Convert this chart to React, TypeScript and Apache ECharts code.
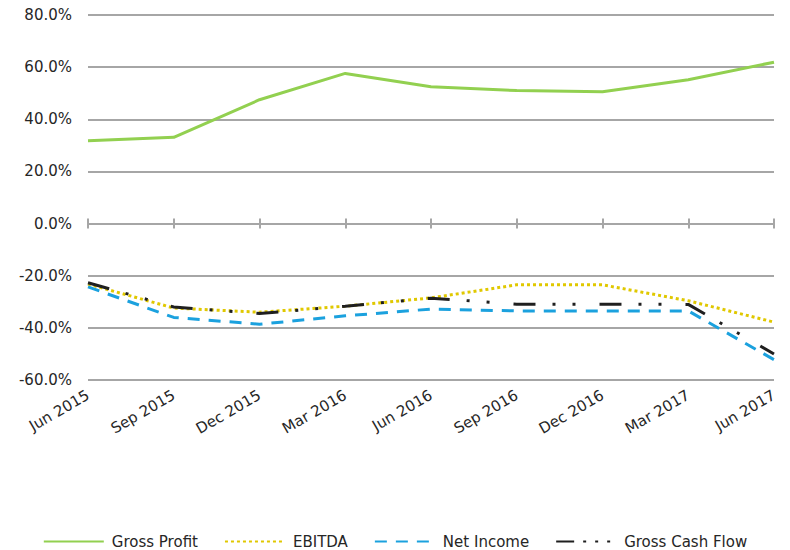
import React, { useEffect, useRef } from "react";
import * as echarts from "echarts";

const categories = ["Jun 2015", "Sep 2015", "Dec 2015", "Mar 2016", "Jun 2016", "Sep 2016", "Dec 2016", "Mar 2017", "Jun 2017"];
const grossProfit = [31.8, 33.1, 47.5, 57.6, 52.5, 51.0, 50.6, 55.2, 61.9];
const ebitda = [-23.2, -32.4, -34.0, -31.7, -28.5, -23.5, -23.5, -29.6, -37.8];
const netIncome = [-24.3, -36.0, -38.6, -35.4, -32.8, -33.5, -33.5, -33.5, -52.2];
const grossCashFlow = [-22.7, -32.0, -34.5, -31.7, -28.6, -30.9, -30.9, -31.0, -50.0];
const seriesNames = ["Gross Profit", "EBITDA", "Net Income", "Gross Cash Flow"];

const FONT = "DejaVu Sans";
const TEXT = "#262626";
const GRID = "#A6A6A6";

export default function App() {
  const ref = useRef<HTMLDivElement>(null);
  useEffect(() => {
    if (!ref.current) return;
    const chart = echarts.init(ref.current, null, { renderer: "svg" });
    const zeroAxis = (position: string, inside: boolean) => ({
      type: "category",
      data: categories,
      boundaryGap: false,
      position,
      axisLine: { show: true, onZero: true, onZeroAxisIndex: 0, lineStyle: { color: GRID, width: 2 } },
      axisTick: { show: true, inside, length: 5, lineStyle: { color: GRID, width: 2 } },
      axisLabel: { show: false },
      splitLine: { show: false },
    });
    chart.setOption({
      animation: false,
      backgroundColor: "#ffffff",
      textStyle: { fontFamily: FONT },
      grid: { left: 88, right: 16, top: 15, bottom: 170, containLabel: false },
      legend: {
        data: [
          { name: seriesNames[0] },
          { name: seriesNames[1] },
          { name: seriesNames[2] },
          { name: seriesNames[3], lineStyle: { type: [18, 9, 3, 9, 3, 9, 3, 12] } },
        ],
        top: 529,
        left: "center",
        padding: 5,
        itemWidth: 60,
        itemHeight: 14,
        itemGap: 26,
        itemStyle: { opacity: 0 },
        textStyle: { color: TEXT, fontSize: 15, fontFamily: FONT, padding: [0, 0, 0, 3] },
      },
      xAxis: [
        {
          type: "category",
          data: categories,
          boundaryGap: false,
          position: "bottom",
          axisLine: { show: false, onZero: false },
          axisTick: { show: false },
          axisLabel: { rotate: 30, margin: 14, color: TEXT, fontSize: 15, fontFamily: FONT, interval: 0 },
          splitLine: { show: false },
        },
        zeroAxis("bottom", false),
        zeroAxis("top", false),
      ],
      yAxis: {
        type: "value",
        min: -60,
        max: 80,
        interval: 20,
        axisLine: { show: false },
        axisTick: { show: false },
        axisLabel: {
          margin: 16,
          color: TEXT,
          fontSize: 15,
          fontFamily: FONT,
          formatter: (v: number) => v.toFixed(1) + "%",
        },
        splitLine: { show: true, lineStyle: { color: GRID, width: 2 } },
      },
      series: [
        {
          name: seriesNames[0],
          type: "line",
          data: grossProfit,
          symbol: "none",
          lineStyle: { color: "#92D050", width: 3 },
          itemStyle: { color: "#92D050" },
        },
        {
          name: seriesNames[1],
          type: "line",
          data: ebitda,
          symbol: "none",
          lineStyle: { color: "#E0C800", width: 3, type: [3, 3] },
          itemStyle: { color: "#E0C800" },
        },
        {
          name: seriesNames[2],
          type: "line",
          data: netIncome,
          symbol: "none",
          lineStyle: { color: "#1BA1DE", width: 3, type: [12, 9] },
          itemStyle: { color: "#1BA1DE" },
        },
        {
          name: seriesNames[3],
          type: "line",
          data: grossCashFlow,
          symbol: "none",
          lineStyle: { color: "#1F1F1F", width: 3, type: [22, 17, 3, 17, 3, 24] },
          itemStyle: { color: "#1F1F1F" },
        },
      ],
    });
    return () => chart.dispose();
  }, []);
  return <div ref={ref} style={{ position: "absolute", left: 0, top: 0, width: 790, height: 550 }} />;
}
